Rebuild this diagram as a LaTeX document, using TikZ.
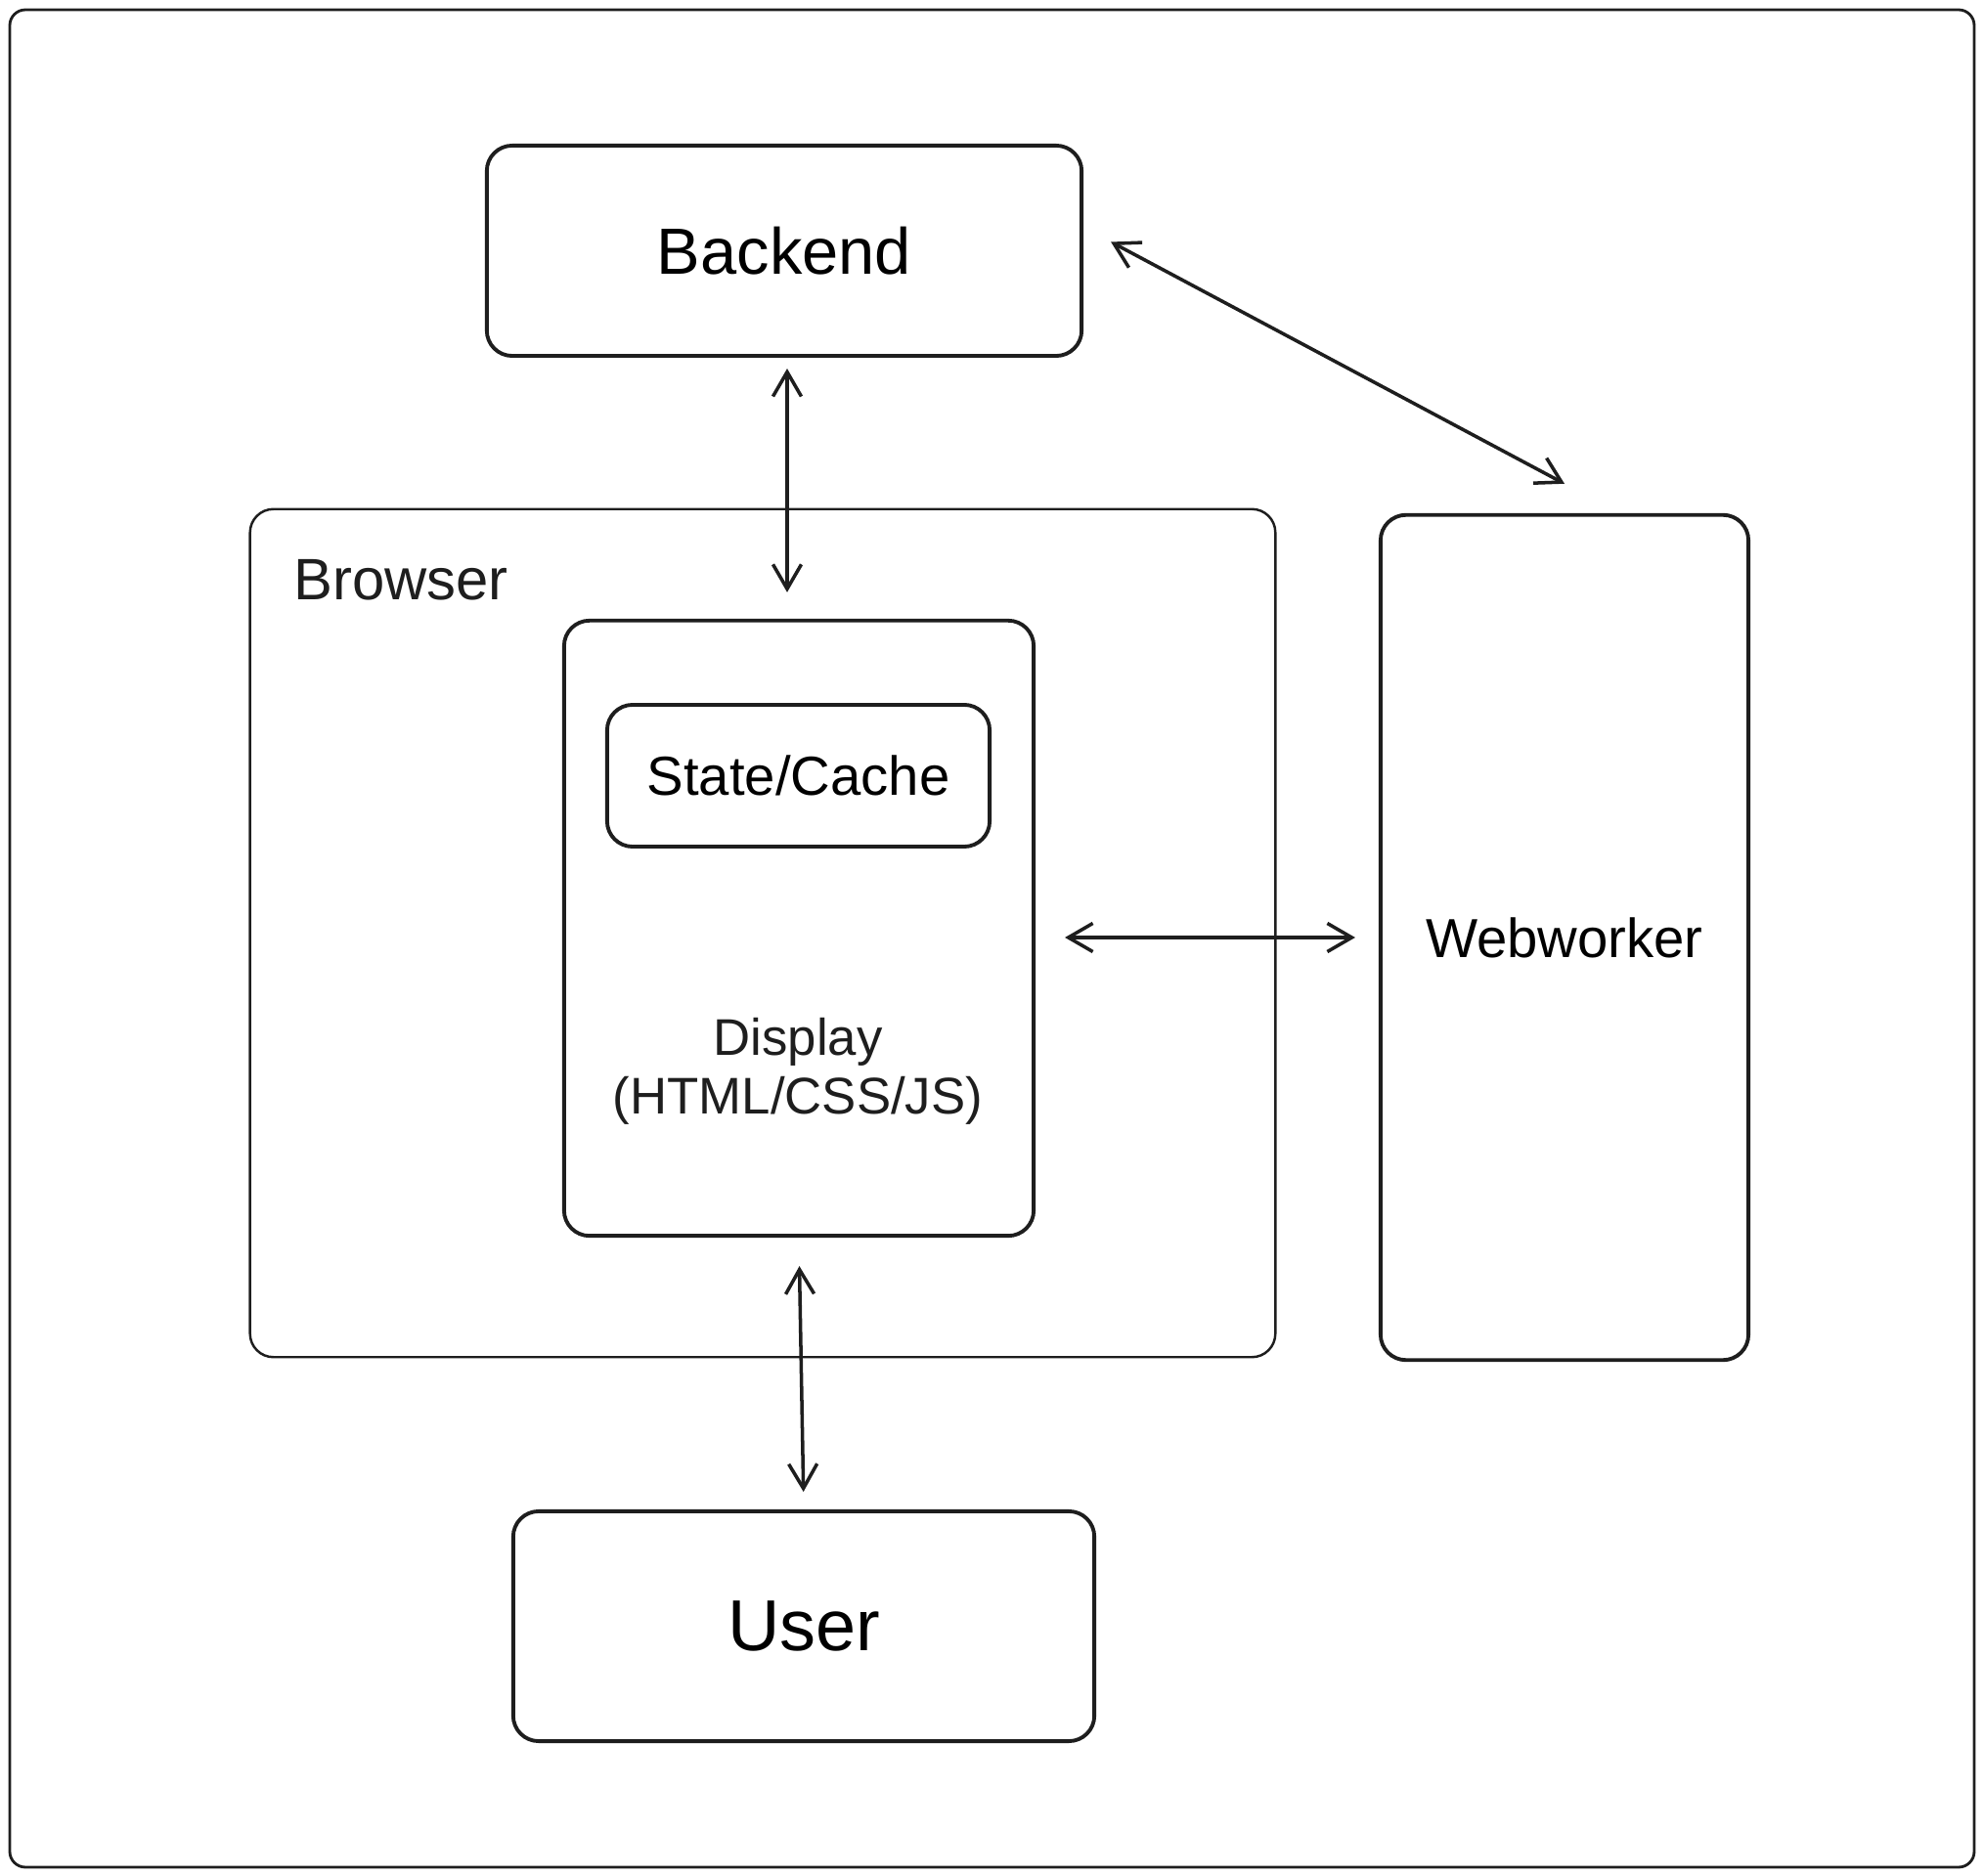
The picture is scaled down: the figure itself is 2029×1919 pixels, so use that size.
\documentclass[tikz,border=0pt]{standalone}
\usepackage{fontspec}
\setmainfont{Liberation Sans}
\usetikzlibrary{arrows.meta}

\definecolor{ink}{HTML}{1E1E1E}

\begin{document}
\begin{tikzpicture}[x=0.01cm, y=-0.01cm,
    box/.style={draw=ink, line width=1.1pt, rounded corners=0.26cm, inner sep=0pt},
    thinbox/.style={draw=ink, line width=0.7pt, rounded corners=0.24cm, inner sep=0pt},
    link/.style={draw=ink, line width=1pt, {Straight Barb[length=2.5mm,width=2.9mm]}-{Straight Barb[length=2.5mm,width=2.9mm]}}]
\useasboundingbox (0,0) rectangle (2029,1919);
% frame
\draw [ink, line width=0.8pt, rounded corners=0.16cm] (10,10) rectangle (2019,1910);
% boxes
\node[box, minimum width=6.08cm, minimum height=2.15cm, font=\fontsize{19}{23}\selectfont] (backend) at (802,256.5) {Backend};
\node[thinbox, minimum width=10.48cm, minimum height=8.67cm] (browser) at (780,954.5) {};
\node[anchor=west, font=\fontsize{17}{20}\selectfont, text=ink] (browserlabel) at (288,593) {Browser};
\node[box, minimum width=4.80cm, minimum height=6.29cm] (display) at (817,949.5) {};
\node[box, minimum width=3.91cm, minimum height=1.45cm, font=\fontsize{16}{19}\selectfont] (cache) at (816.5,793.5) {State/Cache};
\node[align=center, font=\fontsize{15}{17}\selectfont, text=ink] (displaylabel) at (816,1096) {Display\\(HTML/CSS/JS)};
\node[box, minimum width=3.76cm, minimum height=8.64cm, font=\fontsize{16}{19}\selectfont] (webworker) at (1600,959) {Webworker};
\node[box, minimum width=5.94cm, minimum height=2.35cm, font=\fontsize{21}{25}\selectfont] (user) at (822,1663.5) {User};
% connections
\draw [link, shorten <=0.11cm, shorten >=0.27cm] ([xshift=0.03cm]backend.south) -- ([xshift=0.03cm]backend.south |- display.north);
\draw [link] ([xshift=0.28cm, yshift=0.09cm]backend.east) -- ([yshift=0.30cm]webworker.north);
\draw [link, shorten <=0.30cm, shorten >=0.24cm] (display.east |- webworker.west) -- (webworker.west);
\draw [link, shorten <=0.29cm, shorten >=0.18cm] (display.south) -- (user.north);
\end{tikzpicture}
\end{document}
